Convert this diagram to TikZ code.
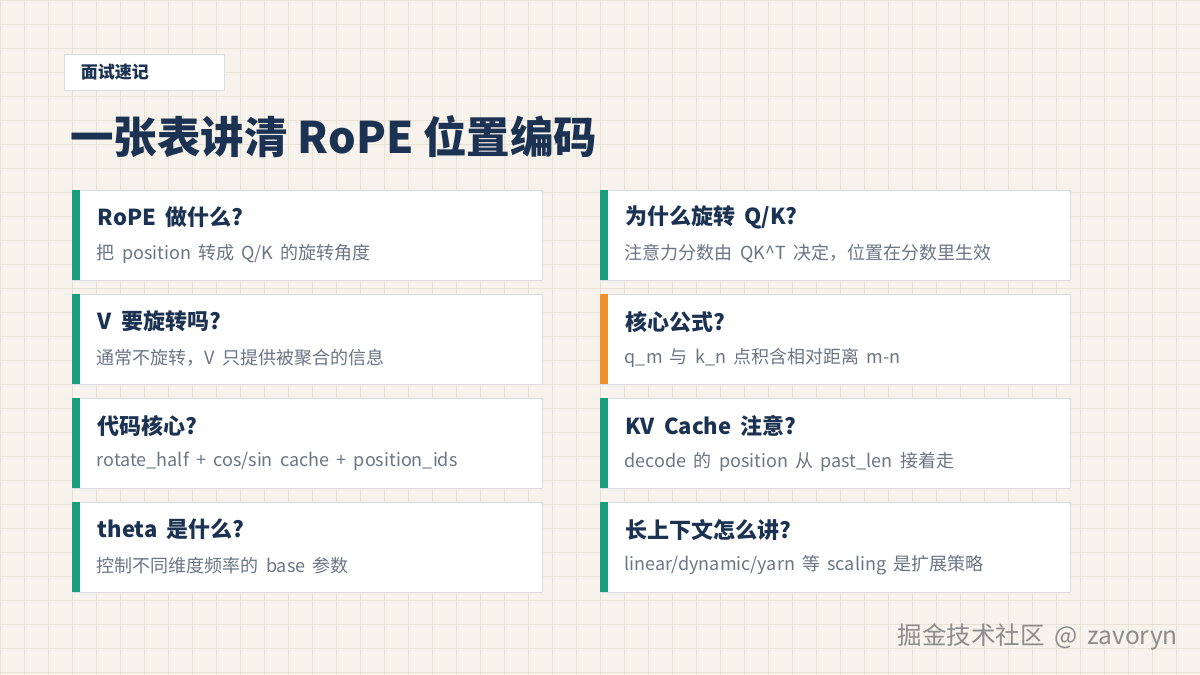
\documentclass[tikz,border=0pt]{standalone}
\usepackage{xcolor}
\usepackage{fontspec}
\usepackage{tikz}
\newfontfamily\cjkhead[Kerning=Off]{Noto Sans CJK SC}
\newfontfamily\cjk[WordSpace=1.8]{Noto Sans CJK SC}
\definecolor{paperbg}{RGB}{247,243,236}
\definecolor{gridline}{RGB}{232,225,213}
\definecolor{navytext}{RGB}{27,50,82}
\definecolor{graytext}{RGB}{107,118,133}
\definecolor{cardline}{RGB}{218,222,227}
\definecolor{accentgreen}{RGB}{26,156,127}
\definecolor{accentorange}{RGB}{240,144,44}
\definecolor{markgray}{RGB}{140,140,140}

\begin{document}
\begin{tikzpicture}[x=1pt,y=-1pt,
  card/.style={draw=cardline,fill=white,line width=0.8pt,minimum width=470pt,minimum height=90pt,inner sep=0pt},
  cardtitle/.style={anchor=west,inner sep=0pt,text=navytext,font=\cjk\bfseries\fontsize{22}{26}\selectfont},
  cardtext/.style={anchor=west,inner sep=0pt,text=graytext,font=\cjk\fontsize{18}{22}\selectfont}]
\useasboundingbox (0,0) rectangle (1200,675);
% Draw the paper and its grid
\fill[paperbg] (0,0) rectangle (1200,675);
\draw[gridline,line width=0.8pt,step=24pt] (0,0) grid (1200,675);
% Draw the tag box
\node[draw=cardline,fill=white,line width=0.8pt,minimum width=160pt,minimum height=36pt,inner sep=0pt] (tag) at (144,72) {};
\node[anchor=west,inner sep=0pt,text=navytext,font=\cjk\bfseries\fontsize{17}{20}\selectfont] (tagtext) at ([xshift=17pt]tag.west) {面试速记};
% Main title
\node[anchor=west,inner sep=0pt,text=navytext,font=\cjkhead\bfseries\fontsize{43.5}{50}\selectfont] (headline) at (70,137) {一张表讲清 RoPE 位置编码};
% Row 1
\node[card] (rope) at (307,235) {};
\fill[accentgreen] (rope.north west) rectangle ++(8,90);
\node[cardtitle] (ropeq) at ([xshift=26pt,yshift=-28pt]rope.north west) {RoPE 做什么?};
\node[cardtext] (ropea) at ([xshift=25pt,yshift=-64pt]rope.north west) {把 position 转成 Q/K 的旋转角度};
\node[card] (rotate) at (835,235) {};
\fill[accentgreen] (rotate.north west) rectangle ++(8,90);
\node[cardtitle] (rotateq) at ([xshift=26pt,yshift=-28pt]rotate.north west) {为什么旋转 Q/K?};
\node[cardtext] (rotatea) at ([xshift=25pt,yshift=-64pt]rotate.north west) {注意力分数由 QK\textasciicircum T 决定，位置在分数里生效};
% Row 2
\node[card] (value) at (307,339) {};
\fill[accentgreen] (value.north west) rectangle ++(8,90);
\node[cardtitle] (valueq) at ([xshift=26pt,yshift=-28pt]value.north west) {V 要旋转吗?};
\node[cardtext] (valuea) at ([xshift=25pt,yshift=-64pt]value.north west) {通常不旋转，V 只提供被聚合的信息};
\node[card] (formula) at (835,339) {};
\fill[accentorange] (formula.north west) rectangle ++(8,90);
\node[cardtitle] (formulaq) at ([xshift=26pt,yshift=-28pt]formula.north west) {核心公式?};
\node[cardtext] (formulaa) at ([xshift=25pt,yshift=-64pt]formula.north west) {q\_m 与 k\_n 点积含相对距离 m-n};
% Row 3
\node[card] (code) at (307,443) {};
\fill[accentgreen] (code.north west) rectangle ++(8,90);
\node[cardtitle] (codeq) at ([xshift=26pt,yshift=-28pt]code.north west) {代码核心?};
\node[cardtext] (codea) at ([xshift=25pt,yshift=-64pt]code.north west) {rotate\_half + cos/sin cache + position\_ids};
\node[card] (kvcache) at (835,443) {};
\fill[accentgreen] (kvcache.north west) rectangle ++(8,90);
\node[cardtitle] (kvcacheq) at ([xshift=26pt,yshift=-28pt]kvcache.north west) {KV Cache 注意?};
\node[cardtext] (kvcachea) at ([xshift=25pt,yshift=-64pt]kvcache.north west) {decode 的 position 从 past\_len 接着走};
% Row 4
\node[card] (theta) at (307,547) {};
\fill[accentgreen] (theta.north west) rectangle ++(8,90);
\node[cardtitle] (thetaq) at ([xshift=26pt,yshift=-28pt]theta.north west) {theta 是什么?};
\node[cardtext] (thetaa) at ([xshift=25pt,yshift=-64pt]theta.north west) {控制不同维度频率的 base 参数};
\node[card] (longctx) at (835,547) {};
\fill[accentgreen] (longctx.north west) rectangle ++(8,90);
\node[cardtitle] (longctxq) at ([xshift=26pt,yshift=-28pt]longctx.north west) {长上下文怎么讲?};
\node[cardtext] (longctxa) at ([xshift=25pt,yshift=-64pt]longctx.north west) {linear/dynamic/yarn 等 scaling 是扩展策略};
% Watermark
\node[anchor=east,inner sep=0pt,text=markgray,font=\cjk\fontsize{24.5}{29}\selectfont] (mark) at (1178,637) {掘金技术社区 @ zavoryn};
\end{tikzpicture}
\end{document}
